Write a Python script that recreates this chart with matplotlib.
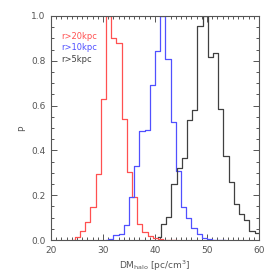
import matplotlib.pyplot as plt
import numpy as np
from matplotlib.ticker import MultipleLocator

# bin centres (1 pc/cm^3 bins) and normalised counts
red_dm = np.arange(24.1, 44.2, 1.0)
red_p = [0.0, 0.015, 0.042, 0.082, 0.146, 0.295, 0.63, 1.0, 0.90, 0.878, 0.539,
         0.303, 0.19, 0.07, 0.034, 0.018, 0.008, 0.003, 0.0, 0.0, 0.0]

blue_dm = np.arange(30.5, 53.6, 1.0)
blue_p = [0.0, 0.005, 0.024, 0.026, 0.067, 0.19, 0.33, 0.487, 0.49, 0.69, 0.845,
          1.0, 0.807, 0.526, 0.308, 0.149, 0.10, 0.052, 0.027, 0.007, 0.003,
          0.0, 0.0, 0.0]

black_dm = np.arange(40.65, 60.7, 1.0)
black_p = [0.013, 0.07, 0.103, 0.251, 0.32, 0.365, 0.536, 0.58, 0.957, 1.0, 0.815,
           0.836, 0.585, 0.375, 0.26, 0.159, 0.115, 0.088, 0.04, 0.033, 0.03]

labels = ['r>20kpc', 'r>10kpc', 'r>5kpc']
colors = ['#ff5050', '#5050ff', '#404040']

fig = plt.figure(figsize=(2.74, 2.74), dpi=100)
ax = fig.add_axes([0.186, 0.124, 0.759, 0.818])

for dm, p, c in zip([red_dm, blue_dm, black_dm], [red_p, blue_p, black_p], colors):
    ax.step(dm, p, where='mid', color=c, lw=0.9)

ax.set_xlim(20, 60)
ax.set_ylim(0, 1.0)

axcol = '#555555'
ax.xaxis.set_major_locator(MultipleLocator(10))
ax.xaxis.set_minor_locator(MultipleLocator(1))
ax.yaxis.set_major_locator(MultipleLocator(0.2))
ax.yaxis.set_minor_locator(MultipleLocator(0.05))
ax.yaxis.set_major_formatter(plt.FormatStrFormatter('%.1f'))
ax.tick_params(which='both', direction='in', top=True, right=True,
               colors=axcol, labelsize=6.5, width=0.7)
ax.tick_params(which='major', length=4, pad=4)
ax.tick_params(which='minor', length=2)
for s in ax.spines.values():
    s.set_color(axcol)
    s.set_linewidth(0.8)

ax.set_xlabel(r'DM$_{\rm halo}$ [pc/cm$^3$]', fontsize=6.5, color=axcol, labelpad=3)
ax.set_ylabel('P', fontsize=6.5, color=axcol, labelpad=3)

for i, (lab, c) in enumerate(zip(labels, colors)):
    ax.text(0.05, 0.91 - i * 0.053, lab, color=c, fontsize=6,
            transform=ax.transAxes, va='center', ha='left')

plt.savefig('out.png', dpi=100)
